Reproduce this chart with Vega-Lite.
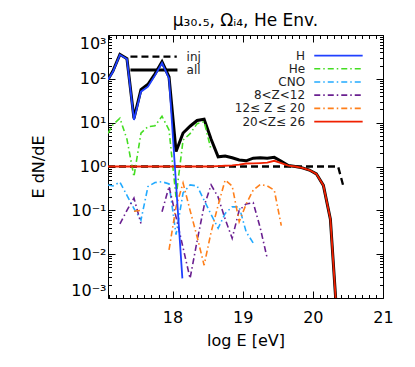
{
  "$schema": "https://vega.github.io/schema/vega-lite/v6.json",
  "width": 275,
  "height": 263,
  "autosize": {"type": "none"},
  "padding": {"left": 108, "top": 35, "right": 32, "bottom": 69},
  "background": "white",
  "title": {"text": "μ₃₀.₅, Ωᵢ₄, He Env.", "font": "DejaVu Sans", "fontSize": 17, "fontWeight": "normal", "anchor": "middle", "baseline": "alphabetic", "offset": 8, "dy": 22, "color": "#000"},
  "config": {
    "view": {"stroke": "#000", "strokeWidth": 1},
    "axis": {"grid": false, "domain": false, "labelFont": "DejaVu Sans", "titleFont": "DejaVu Sans", "labelColor": "#000", "titleColor": "#000", "tickColor": "#000", "tickWidth": 1, "titleFontWeight": "normal", "labelOverlap": false}
  },
  "datasets": {
    "lines": [
      {"s": "H", "g": "a", "x": 17.08, "y": 95}, {"s": "H", "g": "a", "x": 17.15, "y": 145}, {"s": "H", "g": "a", "x": 17.25, "y": 355}, {"s": "H", "g": "a", "x": 17.35, "y": 282}, {"s": "H", "g": "a", "x": 17.45, "y": 11.5}, {"s": "H", "g": "a", "x": 17.55, "y": 51}, {"s": "H", "g": "a", "x": 17.65, "y": 66}, {"s": "H", "g": "a", "x": 17.75, "y": 120}, {"s": "H", "g": "a", "x": 17.85, "y": 229}, {"s": "H", "g": "a", "x": 17.95, "y": 102}, {"s": "H", "g": "a", "x": 18.05, "y": 0.4}, {"s": "H", "g": "a", "x": 18.14, "y": 0.0028},
      {"s": "H", "g": "L", "x": 20.02, "y": 339}, {"s": "H", "g": "L", "x": 20.71, "y": 339},
      {"s": "all", "g": "a", "x": 17.08, "y": 97}, {"s": "all", "g": "a", "x": 17.15, "y": 150}, {"s": "all", "g": "a", "x": 17.25, "y": 362}, {"s": "all", "g": "a", "x": 17.35, "y": 288}, {"s": "all", "g": "a", "x": 17.45, "y": 12.5}, {"s": "all", "g": "a", "x": 17.55, "y": 57}, {"s": "all", "g": "a", "x": 17.65, "y": 75}, {"s": "all", "g": "a", "x": 17.75, "y": 130}, {"s": "all", "g": "a", "x": 17.85, "y": 245}, {"s": "all", "g": "a", "x": 17.95, "y": 110}, {"s": "all", "g": "a", "x": 18.05, "y": 2.2}, {"s": "all", "g": "a", "x": 18.15, "y": 5.8}, {"s": "all", "g": "a", "x": 18.25, "y": 8.3}, {"s": "all", "g": "a", "x": 18.35, "y": 11.2}, {"s": "all", "g": "a", "x": 18.45, "y": 12}, {"s": "all", "g": "a", "x": 18.55, "y": 4.2}, {"s": "all", "g": "a", "x": 18.65, "y": 1.66}, {"s": "all", "g": "a", "x": 18.75, "y": 1.74}, {"s": "all", "g": "a", "x": 18.85, "y": 1.58}, {"s": "all", "g": "a", "x": 18.95, "y": 1.41}, {"s": "all", "g": "a", "x": 19.05, "y": 1.35}, {"s": "all", "g": "a", "x": 19.15, "y": 1.55}, {"s": "all", "g": "a", "x": 19.25, "y": 1.58}, {"s": "all", "g": "a", "x": 19.35, "y": 1.55}, {"s": "all", "g": "a", "x": 19.45, "y": 1.62}, {"s": "all", "g": "a", "x": 19.55, "y": 1.32}, {"s": "all", "g": "a", "x": 19.65, "y": 1.05}, {"s": "all", "g": "a", "x": 19.75, "y": 1.0}, {"s": "all", "g": "a", "x": 19.85, "y": 0.93}, {"s": "all", "g": "a", "x": 19.95, "y": 0.83}, {"s": "all", "g": "a", "x": 20.05, "y": 0.68}, {"s": "all", "g": "a", "x": 20.15, "y": 0.37}, {"s": "all", "g": "a", "x": 20.25, "y": 0.063}, {"s": "all", "g": "a", "x": 20.35, "y": 0.00025},
      {"s": "all", "g": "L", "x": 17.4, "y": 160}, {"s": "all", "g": "L", "x": 18.07, "y": 160},
      {"s": "inj", "g": "a", "x": 17.08, "y": 1}, {"s": "inj", "g": "a", "x": 20.36, "y": 1}, {"s": "inj", "g": "a", "x": 20.43, "y": 0.38},
      {"s": "inj", "g": "L", "x": 17.4, "y": 320}, {"s": "inj", "g": "L", "x": 18.06, "y": 320},
      {"s": "Fe", "g": "a", "x": 17.08, "y": 1}, {"s": "Fe", "g": "a", "x": 17.15, "y": 1}, {"s": "Fe", "g": "a", "x": 17.25, "y": 1}, {"s": "Fe", "g": "a", "x": 17.35, "y": 1}, {"s": "Fe", "g": "a", "x": 17.45, "y": 1}, {"s": "Fe", "g": "a", "x": 17.55, "y": 1}, {"s": "Fe", "g": "a", "x": 17.65, "y": 1}, {"s": "Fe", "g": "a", "x": 17.75, "y": 1}, {"s": "Fe", "g": "a", "x": 17.85, "y": 1}, {"s": "Fe", "g": "a", "x": 17.95, "y": 1}, {"s": "Fe", "g": "a", "x": 18.05, "y": 1}, {"s": "Fe", "g": "a", "x": 18.15, "y": 1}, {"s": "Fe", "g": "a", "x": 18.25, "y": 1}, {"s": "Fe", "g": "a", "x": 18.35, "y": 1}, {"s": "Fe", "g": "a", "x": 18.45, "y": 1}, {"s": "Fe", "g": "a", "x": 18.55, "y": 1}, {"s": "Fe", "g": "a", "x": 18.65, "y": 1.02}, {"s": "Fe", "g": "a", "x": 18.75, "y": 1.04}, {"s": "Fe", "g": "a", "x": 18.85, "y": 1.06}, {"s": "Fe", "g": "a", "x": 18.95, "y": 1.1}, {"s": "Fe", "g": "a", "x": 19.05, "y": 1.17}, {"s": "Fe", "g": "a", "x": 19.15, "y": 1.18}, {"s": "Fe", "g": "a", "x": 19.25, "y": 1.2}, {"s": "Fe", "g": "a", "x": 19.35, "y": 1.22}, {"s": "Fe", "g": "a", "x": 19.45, "y": 1.35}, {"s": "Fe", "g": "a", "x": 19.55, "y": 1.2}, {"s": "Fe", "g": "a", "x": 19.65, "y": 1.05}, {"s": "Fe", "g": "a", "x": 19.75, "y": 1.0}, {"s": "Fe", "g": "a", "x": 19.85, "y": 0.93}, {"s": "Fe", "g": "a", "x": 19.95, "y": 0.83}, {"s": "Fe", "g": "a", "x": 20.05, "y": 0.68}, {"s": "Fe", "g": "a", "x": 20.15, "y": 0.37}, {"s": "Fe", "g": "a", "x": 20.25, "y": 0.063}, {"s": "Fe", "g": "a", "x": 20.35, "y": 0.00025},
      {"s": "Fe", "g": "L", "x": 20.02, "y": 10.6}, {"s": "Fe", "g": "L", "x": 20.71, "y": 10.6},
      {"s": "He", "g": "a", "x": 17.08, "y": 5.7}, {"s": "He", "g": "a", "x": 17.15, "y": 9}, {"s": "He", "g": "a", "x": 17.25, "y": 12.6}, {"s": "He", "g": "a", "x": 17.35, "y": 4.2}, {"s": "He", "g": "a", "x": 17.45, "y": 0.59}, {"s": "He", "g": "a", "x": 17.55, "y": 5.8}, {"s": "He", "g": "a", "x": 17.65, "y": 8.1}, {"s": "He", "g": "a", "x": 17.75, "y": 8.5}, {"s": "He", "g": "a", "x": 17.85, "y": 14}, {"s": "He", "g": "a", "x": 17.95, "y": 6.8}, {"s": "He", "g": "a", "x": 18.05, "y": 0.2}, {"s": "He", "g": "a", "x": 18.15, "y": 4}, {"s": "He", "g": "a", "x": 18.25, "y": 5.6}, {"s": "He", "g": "a", "x": 18.35, "y": 9.5}, {"s": "He", "g": "a", "x": 18.45, "y": 10.5}, {"s": "He", "g": "a", "x": 18.55, "y": 2.4},
      {"s": "He", "g": "L", "x": 20.02, "y": 170}, {"s": "He", "g": "L", "x": 20.71, "y": 170},
      {"s": "CNO", "g": "a", "x": 17.08, "y": 0.38}, {"s": "CNO", "g": "a", "x": 17.15, "y": 0.36}, {"s": "CNO", "g": "a", "x": 17.25, "y": 0.44}, {"s": "CNO", "g": "a", "x": 17.35, "y": 0.22}, {"s": "CNO", "g": "a", "x": 17.45, "y": 0.11}, {"s": "CNO", "g": "a", "x": 17.55, "y": 0.06}, {"s": "CNO", "g": "a", "x": 17.65, "y": 0.35}, {"s": "CNO", "g": "a", "x": 17.75, "y": 0.43}, {"s": "CNO", "g": "a", "x": 17.85, "y": 0.45}, {"s": "CNO", "g": "a", "x": 17.95, "y": 0.4}, {"s": "CNO", "g": "a", "x": 18.05, "y": 0.028}, {"s": "CNO", "g": "a", "x": 18.15, "y": 0.25}, {"s": "CNO", "g": "a", "x": 18.25, "y": 0.38}, {"s": "CNO", "g": "a", "x": 18.35, "y": 0.36}, {"s": "CNO", "g": "a", "x": 18.45, "y": 0.17}, {"s": "CNO", "g": "a", "x": 18.55, "y": 0.08}, {"s": "CNO", "g": "a", "x": 18.65, "y": 0.039}, {"s": "CNO", "g": "a", "x": 18.75, "y": 0.085}, {"s": "CNO", "g": "a", "x": 18.85, "y": 0.12}, {"s": "CNO", "g": "a", "x": 18.95, "y": 0.12}, {"s": "CNO", "g": "a", "x": 19.05, "y": 0.032}, {"s": "CNO", "g": "a", "x": 19.15, "y": 0.018},
      {"s": "CNO", "g": "L", "x": 20.02, "y": 85}, {"s": "CNO", "g": "L", "x": 20.71, "y": 85},
      {"s": "Ne", "g": "a", "x": 17.25, "y": 0.049}, {"s": "Ne", "g": "a", "x": 17.35, "y": 0.1}, {"s": "Ne", "g": "a", "x": 17.45, "y": 0.19}, {"s": "Ne", "g": "a", "x": 17.55, "y": 0.05},
      {"s": "Ne", "g": "b", "x": 17.85, "y": 0.093}, {"s": "Ne", "g": "b", "x": 17.95, "y": 0.35}, {"s": "Ne", "g": "b", "x": 18.05, "y": 0.07}, {"s": "Ne", "g": "b", "x": 18.15, "y": 0.014}, {"s": "Ne", "g": "b", "x": 18.25, "y": 0.0028}, {"s": "Ne", "g": "b", "x": 18.35, "y": 0.02}, {"s": "Ne", "g": "b", "x": 18.45, "y": 0.126}, {"s": "Ne", "g": "b", "x": 18.55, "y": 0.38}, {"s": "Ne", "g": "b", "x": 18.65, "y": 0.2}, {"s": "Ne", "g": "b", "x": 18.75, "y": 0.063}, {"s": "Ne", "g": "b", "x": 18.85, "y": 0.023}, {"s": "Ne", "g": "b", "x": 18.95, "y": 0.1}, {"s": "Ne", "g": "b", "x": 19.05, "y": 0.14}, {"s": "Ne", "g": "b", "x": 19.15, "y": 0.15}, {"s": "Ne", "g": "b", "x": 19.25, "y": 0.04}, {"s": "Ne", "g": "b", "x": 19.35, "y": 0.008},
      {"s": "Ne", "g": "L", "x": 20.02, "y": 42.5}, {"s": "Ne", "g": "L", "x": 20.71, "y": 42.5},
      {"s": "Si", "g": "a", "x": 17.45, "y": 0.095}, {"s": "Si", "g": "a", "x": 17.55, "y": 0.1},
      {"s": "Si", "g": "b", "x": 17.95, "y": 0.0126}, {"s": "Si", "g": "b", "x": 18.05, "y": 0.12}, {"s": "Si", "g": "b", "x": 18.15, "y": 0.42}, {"s": "Si", "g": "b", "x": 18.25, "y": 0.1}, {"s": "Si", "g": "b", "x": 18.35, "y": 0.025}, {"s": "Si", "g": "b", "x": 18.45, "y": 0.0056}, {"s": "Si", "g": "b", "x": 18.55, "y": 0.032}, {"s": "Si", "g": "b", "x": 18.65, "y": 0.13}, {"s": "Si", "g": "b", "x": 18.75, "y": 0.49}, {"s": "Si", "g": "b", "x": 18.85, "y": 0.36}, {"s": "Si", "g": "b", "x": 18.95, "y": 0.055}, {"s": "Si", "g": "b", "x": 19.05, "y": 0.14}, {"s": "Si", "g": "b", "x": 19.15, "y": 0.29}, {"s": "Si", "g": "b", "x": 19.25, "y": 0.39}, {"s": "Si", "g": "b", "x": 19.35, "y": 0.36}, {"s": "Si", "g": "b", "x": 19.45, "y": 0.29}, {"s": "Si", "g": "b", "x": 19.55, "y": 0.045},
      {"s": "Si", "g": "L", "x": 20.02, "y": 21.2}, {"s": "Si", "g": "L", "x": 20.71, "y": 21.2}
    ],
    "labels": [
      {"t": "inj", "x": 18.2, "y": 320}, {"t": "all", "x": 18.2, "y": 160},
      {"t": "H", "x": 19.89, "y": 339}, {"t": "He", "x": 19.89, "y": 170}, {"t": "CNO", "x": 19.89, "y": 85}, {"t": "8<Z<12", "x": 19.89, "y": 42.5}, {"t": "12≤ Z ≤ 20", "x": 19.89, "y": 21.2}, {"t": "20<Z≤ 26", "x": 19.89, "y": 10.6}
    ]
  },
  "layer": [
    {
      "data": {"name": "lines"},
      "mark": {"type": "point", "opacity": 0},
      "encoding": {
        "x": {"field": "x", "type": "quantitative", "scale": {"domain": [17.08, 21], "nice": false, "zero": false},
          "axis": {"orient": "bottom", "title": "log E [eV]", "titleFontSize": 16, "titlePadding": 4, "labelFontSize": 16, "labelPadding": 18, "labelFlush": false,
            "values": [17.1,17.2,17.3,17.4,17.5,17.6,17.7,17.8,17.9,18,18.1,18.2,18.3,18.4,18.5,18.6,18.7,18.8,18.9,19,19.1,19.2,19.3,19.4,19.5,19.6,19.7,19.8,19.9,20,20.1,20.2,20.3,20.4,20.5,20.6,20.7,20.8,20.9,21],
            "labelExpr": "abs(datum.value - round(datum.value)) < 0.001 ? format(datum.value, 'd') : ''",
            "tickSize": {"condition": {"test": "abs(datum.value - round(datum.value)) < 0.001", "value": -7}, "value": -3.5}}},
        "y": {"field": "y", "type": "quantitative", "scale": {"type": "log", "domain": [0.001, 1000], "nice": false},
          "axis": {"orient": "left", "title": "E dN/dE", "titleFontSize": 16, "titlePadding": 24, "labelFontSize": 16, "labelPadding": 9, "labelFlush": true,
            "values": [0.001,0.002,0.003,0.004,0.005,0.006,0.007,0.008,0.009,0.01,0.02,0.03,0.04,0.05,0.06,0.07,0.08,0.09,0.1,0.2,0.3,0.4,0.5,0.6,0.7,0.8,0.9,1,2,3,4,5,6,7,8,9,10,20,30,40,50,60,70,80,90,100,200,300,400,500,600,700,800,900,1000],
            "labelExpr": "abs(log(datum.value)/LN10 - round(log(datum.value)/LN10)) > 0.001 ? '' : ['10⁻³','10⁻²','10⁻¹','10⁰','10¹','10²','10³'][round(log(datum.value)/LN10)+3]",
            "tickSize": {"condition": {"test": "abs(log(datum.value)/LN10 - round(log(datum.value)/LN10)) < 0.001", "value": -7}, "value": -3.5}}}
      }
    },
    {
      "data": {"name": "lines"},
      "mark": {"type": "point", "opacity": 0},
      "encoding": {
        "x": {"field": "x", "type": "quantitative", "scale": {"domain": [17.08, 21], "nice": false, "zero": false},
          "axis": {"orient": "top", "title": null, "labels": false,
            "values": [17.1,17.2,17.3,17.4,17.5,17.6,17.7,17.8,17.9,18,18.1,18.2,18.3,18.4,18.5,18.6,18.7,18.8,18.9,19,19.1,19.2,19.3,19.4,19.5,19.6,19.7,19.8,19.9,20,20.1,20.2,20.3,20.4,20.5,20.6,20.7,20.8,20.9,21],
            "tickSize": {"condition": {"test": "abs(datum.value - round(datum.value)) < 0.001", "value": -7}, "value": -3.5}}},
        "y": {"field": "y", "type": "quantitative", "scale": {"type": "log", "domain": [0.001, 1000], "nice": false},
          "axis": {"orient": "right", "title": null, "labels": false,
            "values": [0.001,0.002,0.003,0.004,0.005,0.006,0.007,0.008,0.009,0.01,0.02,0.03,0.04,0.05,0.06,0.07,0.08,0.09,0.1,0.2,0.3,0.4,0.5,0.6,0.7,0.8,0.9,1,2,3,4,5,6,7,8,9,10,20,30,40,50,60,70,80,90,100,200,300,400,500,600,700,800,900,1000],
            "tickSize": {"condition": {"test": "abs(log(datum.value)/LN10 - round(log(datum.value)/LN10)) < 0.001", "value": -7}, "value": -3.5}}}
      }
    },
    {
      "data": {"name": "lines"},
      "transform": [{"filter": "datum.s == 'inj'"}],
      "mark": {"type": "line", "color": "#000", "strokeWidth": 2.3, "strokeDash": [7, 4], "clip": true},
      "encoding": {
        "x": {"field": "x", "type": "quantitative", "scale": {"domain": [17.08, 21], "nice": false, "zero": false}, "axis": null},
        "y": {"field": "y", "type": "quantitative", "scale": {"type": "log", "domain": [0.001, 1000], "nice": false}, "axis": null},
        "detail": {"field": "g"}
      }
    },
    {
      "data": {"name": "lines"},
      "transform": [{"filter": "datum.s == 'all'"}],
      "mark": {"type": "line", "color": "#000", "strokeWidth": 3, "clip": true},
      "encoding": {
        "x": {"field": "x", "type": "quantitative", "scale": {"domain": [17.08, 21], "nice": false, "zero": false}, "axis": null},
        "y": {"field": "y", "type": "quantitative", "scale": {"type": "log", "domain": [0.001, 1000], "nice": false}, "axis": null},
        "detail": {"field": "g"}
      }
    },
    {
      "data": {"name": "lines"},
      "transform": [{"filter": "datum.s == 'He'"}],
      "mark": {"type": "line", "color": "#44dd22", "strokeWidth": 1.6, "strokeDash": [6, 3, 1.5, 3], "clip": true},
      "encoding": {
        "x": {"field": "x", "type": "quantitative", "scale": {"domain": [17.08, 21], "nice": false, "zero": false}, "axis": null},
        "y": {"field": "y", "type": "quantitative", "scale": {"type": "log", "domain": [0.001, 1000], "nice": false}, "axis": null},
        "detail": {"field": "g"}
      }
    },
    {
      "data": {"name": "lines"},
      "transform": [{"filter": "datum.s == 'CNO'"}],
      "mark": {"type": "line", "color": "#22aaff", "strokeWidth": 1.6, "strokeDash": [6, 3, 1.5, 3], "clip": true},
      "encoding": {
        "x": {"field": "x", "type": "quantitative", "scale": {"domain": [17.08, 21], "nice": false, "zero": false}, "axis": null},
        "y": {"field": "y", "type": "quantitative", "scale": {"type": "log", "domain": [0.001, 1000], "nice": false}, "axis": null},
        "detail": {"field": "g"}
      }
    },
    {
      "data": {"name": "lines"},
      "transform": [{"filter": "datum.s == 'Ne'"}],
      "mark": {"type": "line", "color": "#6a2090", "strokeWidth": 1.6, "strokeDash": [6, 3, 1.5, 3], "clip": true},
      "encoding": {
        "x": {"field": "x", "type": "quantitative", "scale": {"domain": [17.08, 21], "nice": false, "zero": false}, "axis": null},
        "y": {"field": "y", "type": "quantitative", "scale": {"type": "log", "domain": [0.001, 1000], "nice": false}, "axis": null},
        "detail": {"field": "g"}
      }
    },
    {
      "data": {"name": "lines"},
      "transform": [{"filter": "datum.s == 'Si'"}],
      "mark": {"type": "line", "color": "#ff7f1a", "strokeWidth": 1.6, "strokeDash": [6, 3, 1.5, 3], "clip": true},
      "encoding": {
        "x": {"field": "x", "type": "quantitative", "scale": {"domain": [17.08, 21], "nice": false, "zero": false}, "axis": null},
        "y": {"field": "y", "type": "quantitative", "scale": {"type": "log", "domain": [0.001, 1000], "nice": false}, "axis": null},
        "detail": {"field": "g"}
      }
    },
    {
      "data": {"name": "lines"},
      "transform": [{"filter": "datum.s == 'Fe'"}],
      "mark": {"type": "line", "color": "#f02000", "strokeWidth": 1.8, "clip": true},
      "encoding": {
        "x": {"field": "x", "type": "quantitative", "scale": {"domain": [17.08, 21], "nice": false, "zero": false}, "axis": null},
        "y": {"field": "y", "type": "quantitative", "scale": {"type": "log", "domain": [0.001, 1000], "nice": false}, "axis": null},
        "detail": {"field": "g"}
      }
    },
    {
      "data": {"name": "lines"},
      "transform": [{"filter": "datum.s == 'H'"}],
      "mark": {"type": "line", "color": "#2040ff", "strokeWidth": 1.8, "clip": true},
      "encoding": {
        "x": {"field": "x", "type": "quantitative", "scale": {"domain": [17.08, 21], "nice": false, "zero": false}, "axis": null},
        "y": {"field": "y", "type": "quantitative", "scale": {"type": "log", "domain": [0.001, 1000], "nice": false}, "axis": null},
        "detail": {"field": "g"}
      }
    },
    {
      "data": {"name": "labels"},
      "transform": [{"filter": "datum.t == 'inj' || datum.t == 'all'"}],
      "mark": {"type": "text", "align": "left", "baseline": "middle", "font": "DejaVu Sans", "fontSize": 12, "color": "#222"},
      "encoding": {
        "x": {"field": "x", "type": "quantitative", "scale": {"domain": [17.08, 21], "nice": false, "zero": false}, "axis": null},
        "y": {"field": "y", "type": "quantitative", "scale": {"type": "log", "domain": [0.001, 1000], "nice": false}, "axis": null},
        "text": {"field": "t"}
      }
    },
    {
      "data": {"name": "labels"},
      "transform": [{"filter": "datum.t != 'inj' && datum.t != 'all'"}],
      "mark": {"type": "text", "align": "right", "baseline": "middle", "font": "DejaVu Sans", "fontSize": 12, "color": "#222"},
      "encoding": {
        "x": {"field": "x", "type": "quantitative", "scale": {"domain": [17.08, 21], "nice": false, "zero": false}, "axis": null},
        "y": {"field": "y", "type": "quantitative", "scale": {"type": "log", "domain": [0.001, 1000], "nice": false}, "axis": null},
        "text": {"field": "t"}
      }
    }
  ],
  "resolve": {"axis": {"x": "independent", "y": "independent"}}
}
